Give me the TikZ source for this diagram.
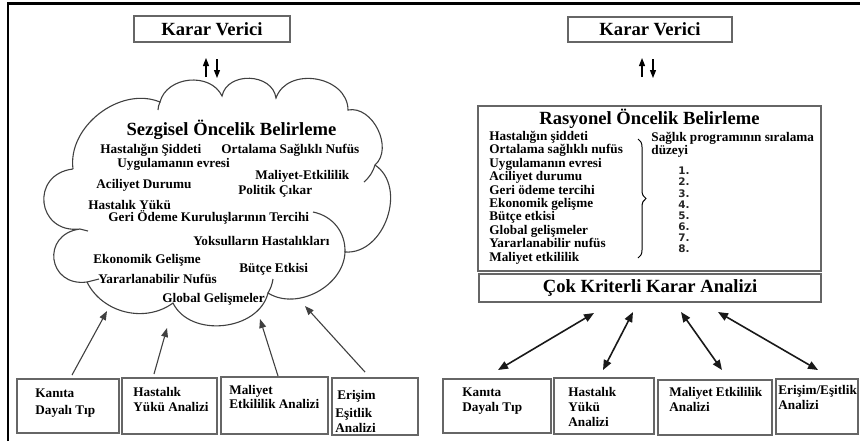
\documentclass[tikz,border=0pt]{standalone}
\usepackage{fontspec}
\setmainfont{Liberation Serif}
\newfontfamily\numfont{DejaVu Sans}
\usetikzlibrary{arrows.meta,fit,decorations.pathreplacing}
\tikzset{
  boxline/.style={draw=black!60, line width=0.75pt, inner sep=0pt},
  ttl/.style={font=\fontsize{9.3}{11}\selectfont\bfseries, inner sep=0pt},
  txt/.style={font=\fontsize{6.6}{7.5}\selectfont\bfseries, inner sep=0pt, anchor=base west},
  numtxt/.style={font=\numfont\bfseries\fontsize{5.2}{6}\selectfont, text=black!85, inner sep=0pt, anchor=base west},
  cloudline/.style={draw=black!75, line width=0.55pt},
  thinarrow/.style={draw=black!75, line width=0.55pt, -{Triangle[length=4.5pt,width=3.4pt]}},
  kvarrow/.style={draw=black, line width=0.55pt, -{Triangle[length=4pt,width=3pt]}},
  dblarrow/.style={draw=black!90, line width=0.8pt, {Triangle[length=5pt,width=4pt]}-{Triangle[length=5pt,width=4pt]}}
}
\begin{document}
\begin{tikzpicture}[x=0.5pt,y=0.5pt]
\useasboundingbox (0,0) rectangle (860,-441);
% outer frame
\draw[line width=1.1pt] (8,-441) -- (8,-3.5) -- (860,-3.5);

% ================= LEFT PANEL =================
\node[boxline, fit={(134,-16) (290,-42)}] (kvL) {};
\node[ttl] (kvLt) at (kvL.center) {Karar Verici};
\coordinate (kLu1) at (206,-77); \coordinate (kLu2) at (206,-58);
\coordinate (kLd1) at (217,-59); \coordinate (kLd2) at (217,-78);
\draw[kvarrow] (kLu1) -- (kLu2);
\draw[kvarrow] (kLd1) -- (kLd2);

% cloud
\draw[cloudline] (73,-169) to[bend left=60] (160,-102)
  to[bend left=70, looseness=1.1] (222,-96)
  to[bend left=80, looseness=1.2] (276,-98)
  to[bend left=80, looseness=1.2] (348,-110)
  to[bend left=75, looseness=1.05] (375,-165)
  to[bend left=75, looseness=1.1] (345,-252)
  to[bend left=60] (268,-293)
  to[bend left=70, looseness=1.05] (173,-303)
  to[bend left=50] (87,-282)
  to[bend left=90, looseness=1.9] (80,-229)
  to[bend left=90, looseness=1.85] (73,-169);
% inner arcs of the cloud
\draw[cloudline] (313,-212) to[bend left=40] (345,-252);
\draw[cloudline] (375,-165) to[bend left=15] (364,-182);
\draw[cloudline] (87,-282) -- (99,-279);
\draw[cloudline] (268,-293) to[bend right=10] (273,-279);
\draw[cloudline] (160,-102) to[bend right=10] (158,-110);
\draw[cloudline] (80,-229) -- (88,-231);

\node[ttl, anchor=base] (sez) at (231.5,-135) {Sezgisel Öncelik Belirleme};
\node[txt] (c1) at (100,-153) {Hastalığın Şiddeti};
\node[txt] (c2) at (221,-153) {Ortalama Sağlıklı Nufüs};
\node[txt] (c3) at (117,-167) {Uygulamanın evresi};
\node[txt] (c4) at (255,-179) {Maliyet-Etkililik};
\node[txt] (c5) at (96,-188) {Aciliyet Durumu};
\node[txt] (c6) at (238,-194) {Politik Çıkar};
\node[txt] (c7) at (88,-209) {Hastalık Yükü};
\node[txt] (c8) at (108,-221) {Geri Ödeme Kuruluşlarının Tercihi};
\node[txt] (c9) at (193,-245) {Yoksulların Hastalıkları};
\node[txt] (c10) at (93,-263) {Ekonomik Gelişme};
\node[txt] (c11) at (239,-272) {Bütçe Etkisi};
\node[txt] (c12) at (98,-283) {Yararlanabilir Nufüs};
\node[txt] (c13) at (162,-302) {Global Gelişmeler};

% bottom boxes left
\node[boxline, fit={(17,-379) (119,-433)}] (lb1) {};
\node[boxline, fit={(122,-378) (217,-434)}] (lb2) {};
\node[boxline, fit={(221,-377) (328,-434)}] (lb3) {};
\node[boxline, fit={(332,-378) (418,-435)}] (lb4) {};
\node[txt] (lb1a) at (35,-397) {Kanıta};
\node[txt] (lb1b) at (35,-414) {Dayalı Tıp};
\node[txt] (lb2a) at (133,-396) {Hastalık};
\node[txt] (lb2b) at (133,-411) {Yükü Analizi};
\node[txt] (lb3a) at (229,-394) {Maliyet};
\node[txt] (lb3b) at (229,-408) {Etkililik Analizi};
\node[txt] (lb4a) at (337,-399) {Erişim};
\node[txt] (lb4b) at (335,-417) {Eşitlik};
\node[txt] (lb4c) at (335,-432) {Analizi};

\coordinate (la1s) at (72,-375);  \coordinate (la1e) at (107,-311);
\coordinate (la2s) at (154,-374); \coordinate (la2e) at (167,-328);
\coordinate (la3s) at (278,-376); \coordinate (la3e) at (260,-319);
\coordinate (la4s) at (365,-372); \coordinate (la4e) at (305,-306);
\draw[thinarrow] (la1s) -- (la1e);
\draw[thinarrow] (la2s) -- (la2e);
\draw[thinarrow] (la3s) -- (la3e);
\draw[thinarrow] (la4s) -- (la4e);

% ================= RIGHT PANEL =================
\node[boxline, fit={(568,-17) (732,-42)}] (kvR) {};
\node[ttl] (kvRt) at (kvR.center) {Karar Verici};
\coordinate (kRu1) at (642,-77); \coordinate (kRu2) at (642,-58);
\coordinate (kRd1) at (653,-59); \coordinate (kRd2) at (653,-78);
\draw[kvarrow] (kRu1) -- (kRu2);
\draw[kvarrow] (kRd1) -- (kRd2);

\node[boxline, fit={(478,-106) (821,-271)}] (ras) {};
\node[ttl, anchor=base] (rast) at (649.5,-124) {Rasyonel Öncelik Belirleme};
\node[txt] (r1) at (489,-140.5) {Hastalığın şiddeti};
\node[txt] (r2) at (489,-153.9) {Ortalama sağlıklı nufüs};
\node[txt] (r3) at (489,-167.3) {Uygulamanın evresi};
\node[txt] (r4) at (489,-180.7) {Aciliyet durumu};
\node[txt] (r5) at (489,-194.1) {Geri ödeme tercihi};
\node[txt] (r6) at (489,-207.5) {Ekonomik gelişme};
\node[txt] (r7) at (489,-220.9) {Bütçe etkisi};
\node[txt] (r8) at (489,-234.3) {Global gelişmeler};
\node[txt] (r9) at (489,-247.7) {Yararlanabilir nufüs};
\node[txt] (r10) at (489,-261.1) {Maliyet etkililik};
\draw[line width=0.5pt, decorate, decoration={brace, amplitude=4pt}] (638,-139) -- (638,-258);
\node[txt] (sag1) at (651,-141) {Sağlık programının sıralama};
\node[txt] (sag2) at (651,-154) {düzeyi};
\foreach \i in {1,...,8} {
  \node[numtxt] (n\i) at (678,{-174.7-11.15*(\i-1)}) {\i.};
}

\node[boxline, fit={(479,-274) (821,-302)}] (cok) {};
\node[ttl] (cokt) at (cok.center) {Çok Kriterli Karar Analizi};

\node[boxline, fit={(443,-379) (551,-433)}] (rb1) {};
\node[boxline, fit={(554,-378) (654,-434)}] (rb2) {};
\node[boxline, fit={(658,-380) (772,-435)}] (rb3) {};
\node[boxline, fit={(776,-379) (858,-434)}] (rb4) {};
\node[txt] (rb1a) at (462,-396) {Kanıta};
\node[txt] (rb1b) at (462,-411) {Dayalı Tıp};
\node[txt] (rb2a) at (568,-396) {Hastalık};
\node[txt] (rb2b) at (568,-411) {Yükü};
\node[txt] (rb2c) at (568,-426) {Analizi};
\node[txt] (rb3a) at (669,-396) {Maliyet Etkililik};
\node[txt] (rb3b) at (669,-411) {Analizi};
\node[txt] (rb4a) at (778,-394) {Erişim/Eşitlik};
\node[txt] (rb4b) at (778,-409) {Analizi};

\coordinate (ra1s) at (498,-370); \coordinate (ra1e) at (594,-313);
\coordinate (ra2s) at (603,-370); \coordinate (ra2e) at (633,-312);
\coordinate (ra3s) at (722,-370); \coordinate (ra3e) at (681,-312);
\coordinate (ra4s) at (818,-370); \coordinate (ra4e) at (718,-312);
\draw[dblarrow] (ra1s) -- (ra1e);
\draw[dblarrow] (ra2s) -- (ra2e);
\draw[dblarrow] (ra3s) -- (ra3e);
\draw[dblarrow] (ra4s) -- (ra4e);
\end{tikzpicture}
\end{document}
